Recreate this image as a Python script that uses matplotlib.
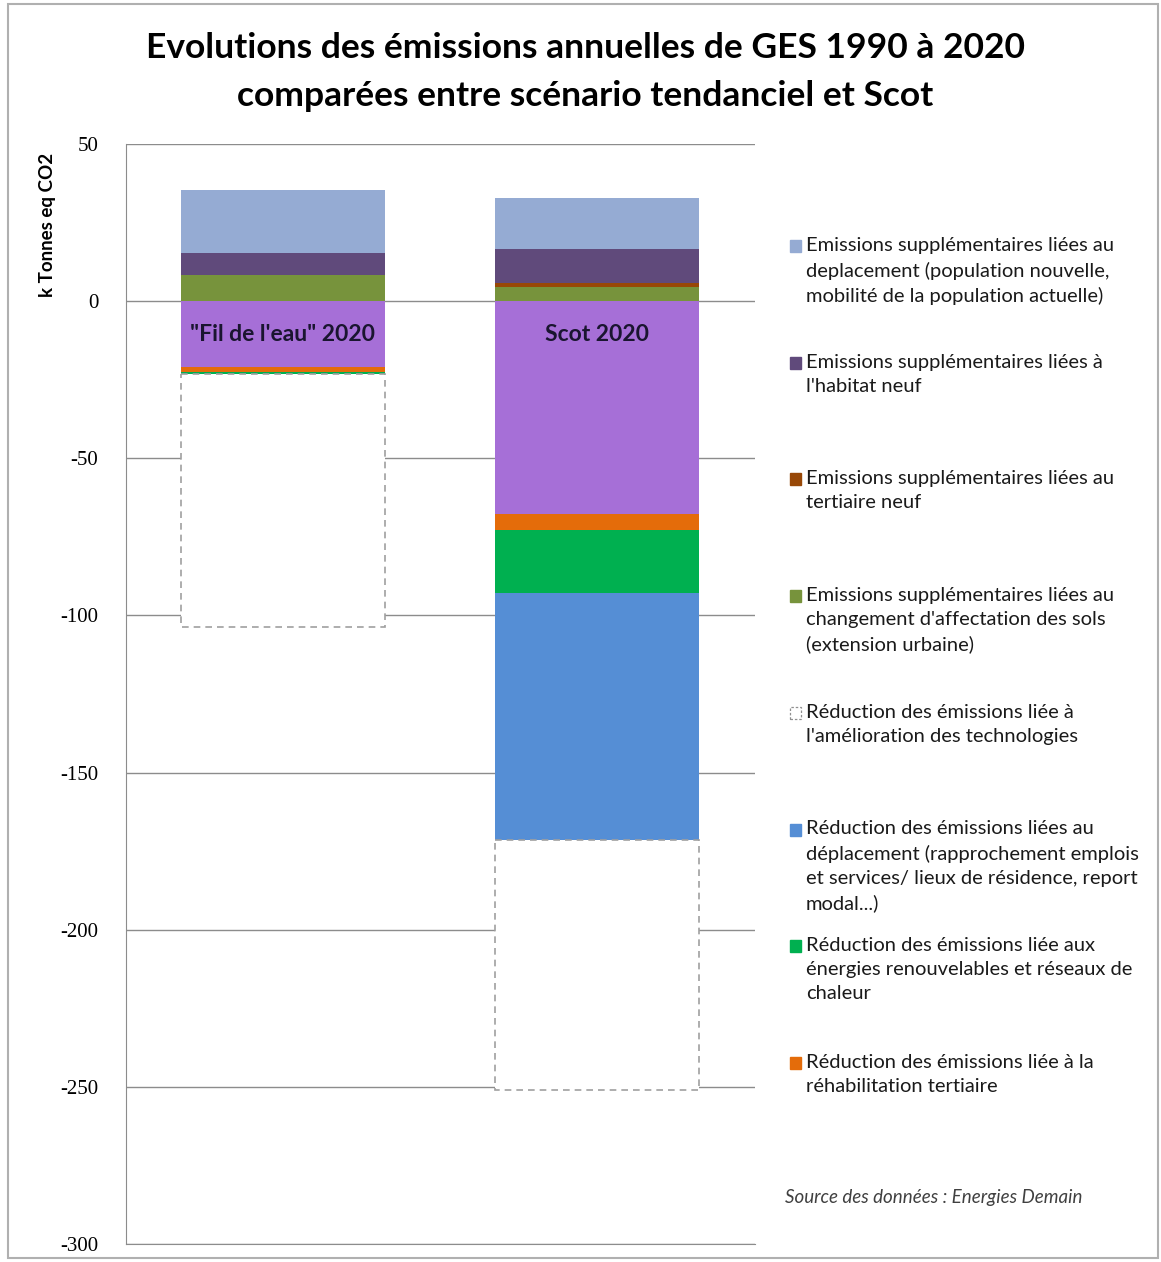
import matplotlib.pyplot as plt
from matplotlib.patches import Rectangle

# scenarios
scenarios = ['"Fil de l\'eau" 2020', 'Scot 2020']

# positive contributions (k t eq CO2), stacked from 0 upwards
sols = [8.3, 4.5]
tertiaire_neuf = [0.0, 1.3]
habitat = [7.0, 10.8]
deplacement_plus = [20.1, 16.2]

# negative contributions, stacked from 0 downwards
base = [-21.0, -67.8]
rehab_tertiaire = [-1.6, -5.1]
enr = [-0.6, -19.8]
deplacement_moins = [-0.0, -78.8]
technologies = [-80.6, -79.6]

yticks = [50, 0, -50, -100, -150, -200, -250, -300]

legend_labels = [
    "Emissions supplémentaires liées au\ndeplacement (population nouvelle,\nmobilité de la population actuelle)",
    "Emissions supplémentaires liées à\nl'habitat neuf",
    "Emissions supplémentaires liées au\ntertiaire neuf",
    "Emissions supplémentaires liées au\nchangement d'affectation des sols\n(extension urbaine)",
    "Réduction des émissions liée à\nl'amélioration des technologies",
    "Réduction des émissions liées au\ndéplacement (rapprochement emplois\net services/ lieux de résidence, report\nmodal...)",
    "Réduction des émissions liée aux\nénergies renouvelables et réseaux de\nchaleur",
    "Réduction des émissions liée à la\nréhabilitation tertiaire",
]

c_light = '#95ABD3'
c_purple = '#604A7B'
c_brown = '#984807'
c_olive = '#77933C'
c_violet = '#A66FD7'
c_orange = '#E46C0A'
c_green = '#00B050'
c_blue = '#558ED5'
legend_colors = [c_light, c_purple, c_brown, c_olive, None, c_blue, c_green, c_orange]

plt.rcParams['font.family'] = ['Lato', 'DejaVu Sans']

fig = plt.figure(figsize=(11.61, 12.62), dpi=100)
ax = fig.add_axes([126 / 1161, 0.01426, 629 / 1161, 0.8716])

x = [0, 1]
w = 0.649

# positive stack
bot = [0.0, 0.0]
for vals, col in [(sols, c_olive), (tertiaire_neuf, c_brown), (habitat, c_purple), (deplacement_plus, c_light)]:
    ax.bar(x, vals, w, bottom=bot, color=col, zorder=2)
    bot = [b + v for b, v in zip(bot, vals)]

# negative stack
bot = [0.0, 0.0]
for vals, col in [(base, c_violet), (rehab_tertiaire, c_orange), (enr, c_green), (deplacement_moins, c_blue)]:
    ax.bar(x, vals, w, bottom=bot, color=col, zorder=2)
    bot = [b + v for b, v in zip(bot, vals)]
ax.bar(x, technologies, w, bottom=bot, facecolor='white', edgecolor='#A0A0A0',
       linestyle=(0, (4, 3)), linewidth=1.2, zorder=2)

for xi, name in zip(x, scenarios):
    ax.text(xi, -10.5, name, ha='center', va='center', fontsize=16.5, fontweight='bold',
            color='#1A1530', zorder=3)

ax.set_xlim(-0.499, 1.501)
ax.set_ylim(-300, 50)
ax.set_yticks(yticks)
ax.set_yticklabels([str(t) for t in yticks], family='Liberation Serif', fontsize=15)
ax.tick_params(axis='y', length=0, pad=20)
ax.set_xticks([])
ax.yaxis.grid(True, color='#8C8C8C', linewidth=1.0, zorder=0)
ax.set_axisbelow(True)
for k, s in ax.spines.items():
    s.set_visible(k in ('left', 'bottom'))
    s.set_color('#8C8C8C')

fig.text(0.041, 0.8217, 'k Tonnes eq CO2', rotation=90, ha='center', va='center',
         fontsize=13.5, fontweight='bold')

fig.text(0.504, 0.962, 'Evolutions des émissions annuelles de GES 1990 à 2020',
         ha='center', va='center', fontsize=25.5, fontweight='bold')
fig.text(0.504, 0.924, 'comparées entre scénario tendanciel et Scot',
         ha='center', va='center', fontsize=25.5, fontweight='bold')

# legend drawn by hand, one entry every ~117 px
for i, (lab, col) in enumerate(zip(legend_labels, legend_colors)):
    ytop = 246 + i * 116.7
    yf = 1 - ytop / 1262
    if col is None:
        fig.patches.append(Rectangle((790 / 1161, yf - 6 / 1262), 11 / 1161, 12 / 1262,
                                     transform=fig.transFigure, facecolor='white',
                                     edgecolor='#909090', linestyle=(0, (2, 1.5)), linewidth=0.9))
    else:
        fig.patches.append(Rectangle((790 / 1161, yf - 6 / 1262), 11 / 1161, 12 / 1262,
                                     transform=fig.transFigure, color=col))
    fig.text(806 / 1161, yf + 9 / 1262, lab, ha='left', va='top', fontsize=14.5,
             linespacing=1.5, color='#1A1A1A')

fig.text(785 / 1161, 1 - 1197 / 1262, 'Source des données : Energies Demain',
         ha='left', va='center', fontsize=13.5, style='italic', color='#404040')

# outer chart border
fig.patches.append(Rectangle((8 / 1161, 4 / 1262), 1150 / 1161, 1254 / 1262,
                             transform=fig.transFigure, fill=False, edgecolor='#B0B0B0', linewidth=1.5))

fig.savefig('out.png', dpi=100)
